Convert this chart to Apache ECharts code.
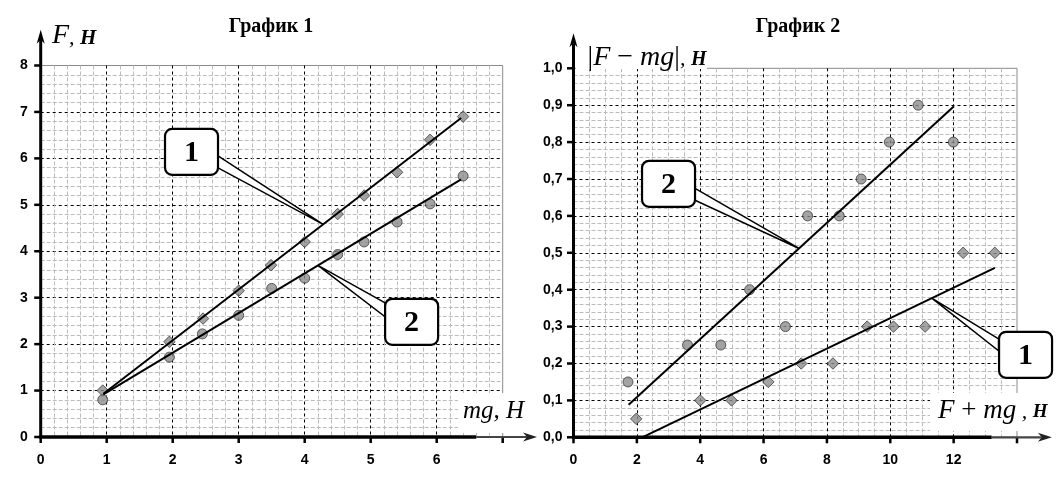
<!DOCTYPE html>
<html><head><meta charset="utf-8">
<script src="https://cdn.jsdelivr.net/npm/echarts@6/dist/echarts.min.js"></script>
<style>html,body{margin:0;padding:0;background:#fff}#c{width:1063px;height:479px}</style>
</head><body><div id="c"></div>
<script>
// ---------- Chart 1 data ----------
const mgDiam = [0.94, 1.95, 2.46, 3.0, 3.49, 4.0, 4.5, 4.9, 5.4, 5.9, 6.4];
const FDiam  = [1.0, 2.05, 2.55, 3.15, 3.7, 4.2, 4.8, 5.2, 5.7, 6.4, 6.9];
const mgCirc = [0.94, 1.95, 2.45, 3.0, 3.5, 4.0, 4.5, 4.9, 5.4, 5.9, 6.4];
const FCirc  = [0.8, 1.72, 2.22, 2.62, 3.2, 3.42, 3.93, 4.2, 4.63, 5.02, 5.62];
const trend1_1 = [[0.95, 0.93], [6.37, 6.87]];
const trend1_2 = [[0.95, 0.92], [6.37, 5.55]];
const xLabels1 = ['0','1','2','3','4','5','6',''];
const yLabels1 = ['0','1','2','3','4','5','6','7','8'];
// ---------- Chart 2 data ----------
const sumDiam  = [1.98, 4.0, 4.99, 6.15, 7.19, 8.19, 9.27, 10.1, 11.1, 12.3, 13.3];
const diffDiam = [0.05, 0.1, 0.1, 0.15, 0.2, 0.2, 0.3, 0.3, 0.3, 0.5, 0.5];
const sumCirc  = [1.72, 3.6, 4.65, 5.56, 6.69, 7.39, 8.39, 9.08, 9.97, 10.88, 11.99];
const diffCirc = [0.15, 0.25, 0.25, 0.4, 0.3, 0.6, 0.6, 0.7, 0.8, 0.9, 0.8];
const trend2_1 = [[2.17, 0.0], [13.3, 0.459]];
const trend2_2 = [[1.74, 0.088], [12.01, 0.897]];
const xLabels2 = ['0','2','4','6','8','10','12',''];
const yLabels2 = ['0,0','0,1','0,2','0,3','0,4','0,5','0,6','0,7','0,8','0,9','1,0'];

const zip = (a, b) => a.map((v, i) => [v, b[i]]);

const AX = {
  x1: {min: 0, max: 7, interval: 1}, y1: {min: 0, max: 8, interval: 1},
  x2: {min: 0, max: 14, interval: 2}, y2: {min: 0, max: 1, interval: 0.1}
};

function axis(gi, r, minorN, fmt, margin) {
  return {
    type: 'value', gridIndex: gi, min: r.min, max: r.max, interval: r.interval,
    axisLine: {show: false},
    axisTick: {show: false},
    axisLabel: {show: true, margin, formatter: fmt, fontFamily: 'Liberation Sans', fontWeight: 'bold', fontSize: 14, color: '#000'},
    splitLine: {show: true, showMinLine: false, showMaxLine: false, lineStyle: {color: '#000', type: [3, 3], width: 1}},
    minorTick: {show: false, splitNumber: minorN},
    minorSplitLine: {show: true, lineStyle: {color: '#bcbcbc', type: [4, 2], width: 1}}
  };
}
const markerStyle = {color: '#8c8c8c', borderColor: '#3c3c3c', borderWidth: 1};
const trendStyle = {color: '#000', width: 2};

const chart = echarts.init(document.getElementById('c'), null, {renderer: 'canvas'});
chart.setOption({
  animation: false,
  grid: [
    {left: 40.7, top: 65.5, width: 462, height: 371.5, show: true, borderColor: '#8a8a8a', borderWidth: 1, backgroundColor: 'transparent'},
    {left: 573.5, top: 68.3, width: 443.5, height: 369, show: true, borderColor: '#8a8a8a', borderWidth: 1, backgroundColor: 'transparent'}
  ],
  xAxis: [
    axis(0, AX.x1, 5, v => xLabels1[Math.round(v)], 16),
    axis(1, AX.x2, 4, v => xLabels2[Math.round(v / 2)], 16)
  ],
  yAxis: [
    axis(0, AX.y1, 5, v => yLabels1[Math.round(v)], 13),
    axis(1, AX.y2, 5, v => yLabels2[Math.round(v * 10)], 11)
  ],
  series: [
    {type: 'scatter', xAxisIndex: 0, yAxisIndex: 0, data: zip(mgDiam, FDiam), symbol: 'diamond', symbolSize: 11.5, itemStyle: markerStyle, z: 3},
    {type: 'scatter', xAxisIndex: 0, yAxisIndex: 0, data: zip(mgCirc, FCirc), symbol: 'circle', symbolSize: 10, itemStyle: markerStyle, z: 3},
    {type: 'line', xAxisIndex: 0, yAxisIndex: 0, data: trend1_1, symbol: 'none', lineStyle: trendStyle, z: 4},
    {type: 'line', xAxisIndex: 0, yAxisIndex: 0, data: trend1_2, symbol: 'none', lineStyle: trendStyle, z: 4},
    {type: 'scatter', xAxisIndex: 1, yAxisIndex: 1, data: zip(sumDiam, diffDiam), symbol: 'diamond', symbolSize: 11.5, itemStyle: markerStyle, z: 3},
    {type: 'scatter', xAxisIndex: 1, yAxisIndex: 1, data: zip(sumCirc, diffCirc), symbol: 'circle', symbolSize: 10, itemStyle: markerStyle, z: 3},
    {type: 'line', xAxisIndex: 1, yAxisIndex: 1, data: trend2_1, symbol: 'none', lineStyle: trendStyle, z: 4},
    {type: 'line', xAxisIndex: 1, yAxisIndex: 1, data: trend2_2, symbol: 'none', lineStyle: trendStyle, z: 4}
  ]
});

// ---------- decorations positioned through the library's coordinate system ----------
const px = (gi, p) => chart.convertToPixel({gridIndex: gi}, p);
const onTrend = (t, x) => [x, t[0][1] + (t[1][1] - t[0][1]) * (x - t[0][0]) / (t[1][0] - t[0][0])];
const G = [];
const Z = 50;
function seg(x1, y1, x2, y2, w, c) {
  G.push({type: 'line', z: Z + 2, shape: {x1, y1, x2, y2}, style: {stroke: c, lineWidth: w}});
}
function arrowRight(tx, y) {
  G.push({type: 'polygon', z: Z + 3, shape: {points: [[tx, y], [tx - 14, y - 4.5], [tx - 10, y], [tx - 14, y + 4.5]]}, style: {fill: '#222'}});
}
function arrowUp(x, ty) {
  G.push({type: 'polygon', z: Z + 3, shape: {points: [[x, ty], [x - 4, ty + 14], [x, ty + 10], [x + 4, ty + 14]]}, style: {fill: '#000'}});
}
function whiteRect(x, y, w, h) {
  G.push({type: 'rect', z: Z, shape: {x, y, width: w, height: h}, style: {fill: '#fff'}});
}
function richText(x, y, text, rich) {
  G.push({type: 'text', z: Z + 4, x, y, style: {text, rich, fill: '#000', verticalAlign: 'bottom', align: 'left'}});
}
function callout(gi, centerData, tipData, b1, b2, label) {
  const c = px(gi, centerData), t = px(gi, tipData);
  G.push({type: 'polygon', z: Z + 5, shape: {points: [[c[0] + b1[0], c[1] + b1[1]], t, [c[0] + b2[0], c[1] + b2[1]]]}, style: {fill: '#fff', stroke: '#000', lineWidth: 1.5}});
  G.push({type: 'rect', z: Z + 6, shape: {x: c[0] - 26.5, y: c[1] - 23, width: 53, height: 46, r: 7}, style: {fill: '#fff', stroke: '#000', lineWidth: 2.2}});
  G.push({type: 'text', z: Z + 7, x: c[0], y: c[1] + 1, style: {text: label, fill: '#000', font: 'bold 30px "Liberation Serif"', align: 'center', verticalAlign: 'middle'}});
}
function drawAxes(gi, rx, ry, xThickEnd, xTipEnd, yTipEnd) {
  const o = px(gi, [0, 0]);
  const yTip = px(gi, [0, yTipEnd])[1];
  const xThick = px(gi, [xThickEnd, 0])[0];
  const xTip = px(gi, [xTipEnd, 0])[0];
  const nx = Math.round((rx.max - rx.min) / rx.interval);
  const ny = Math.round((ry.max - ry.min) / ry.interval);
  for (let i = 0; i <= nx; i++) {
    const x = px(gi, [rx.min + i * rx.interval, 0])[0];
    seg(x, o[1], x, o[1] + 6, 2.5, '#000');
  }
  for (let j = 0; j <= ny; j++) {
    const y = px(gi, [0, ry.min + j * ry.interval])[1];
    seg(o[0] - 6.5, y, o[0], y, 2.5, '#000');
  }
  seg(o[0], o[1] + 1.5, o[0], yTip + 10, 3, '#000');
  arrowUp(o[0], yTip);
  seg(o[0] - 1.5, o[1], xThick, o[1], 3.5, '#000');
  seg(xThick, o[1], xTip - 10, o[1], 2.2, '#444');
  arrowRight(xTip, o[1]);
}
const ital = (s, pb) => ({fontFamily: 'Liberation Serif', fontStyle: 'italic', fontSize: s, verticalAlign: 'bottom', padding: [0, 0, pb || 0, 0]});
const reg = (s, pb) => ({fontFamily: 'Liberation Serif', fontSize: s, verticalAlign: 'bottom', padding: [0, 0, pb || 0, 0]});
const bi = (s, pb) => ({fontFamily: 'Liberation Serif', fontStyle: 'italic', fontWeight: 'bold', fontSize: s, verticalAlign: 'bottom', padding: [0, 0, pb || 0, 0]});

// white backgrounds behind axis titles
whiteRect(458, 393, 80, 40);
whiteRect(930, 393, 130, 38);
whiteRect(576, 28, 131, 41);

drawAxes(0, AX.x1, AX.y1, 6.6, 7.52, 8.77);
drawAxes(1, AX.x2, AX.y2, 13.2, 15.1, 1.095);

// Titles
G.push({type: 'text', z: Z + 4, x: 271, y: 37, style: {text: 'График 1', fill: '#000', font: 'bold 20px "Liberation Serif"', align: 'center', verticalAlign: 'bottom'}});
G.push({type: 'text', z: Z + 4, x: 798, y: 37, style: {text: 'График 2', fill: '#000', font: 'bold 20px "Liberation Serif"', align: 'center', verticalAlign: 'bottom'}});

// Axis titles
richText(52, 50, '{i|F}{c|, }{b|H}', {i: ital(28), c: ital(22, 1), b: bi(21, 1)});
richText(463, 424, '{i|mg, H}', {i: ital(25)});
richText(582, 72, '{r|\u2009|}{i|F}{r| \u2212 }{i|mg}{r||}{c|, }{b|H}', {i: ital(28), r: reg(28), c: ital(22, 2), b: bi(20, 2)});
richText(938, 424, '{i|F}{r| + }{i|mg}{c| , }{b|H}', {i: ital(27), r: reg(27), c: ital(22, 1), b: bi(19, 2)});

// Callouts pointing at the trend lines
callout(0, [2.285, 6.14], onTrend(trend1_1, 4.28), [26.5, 4], [26.5, 16], '1');
callout(0, [5.62, 2.48], onTrend(trend1_2, 4.2), [-26.5, -19], [-26.5, -5], '2');
callout(1, [3.0, 0.687], onTrend(trend2_2, 7.12), [26.5, 4.5], [26.5, 16.5], '2');
callout(1, [14.27, 0.2236], onTrend(trend2_1, 11.31), [-27, -16], [-27, -4], '1');

chart.setOption({graphic: G});
</script></body></html>
